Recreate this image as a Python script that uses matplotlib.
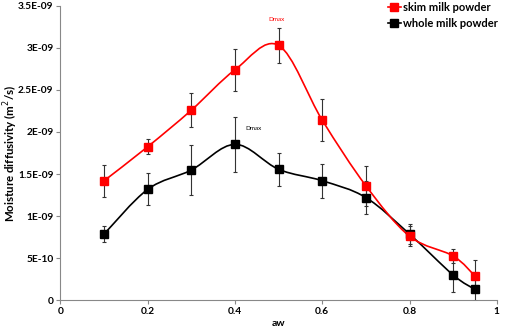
import numpy as np
import matplotlib
matplotlib.use("Agg")
from matplotlib import pyplot as plt
from matplotlib.path import Path
from matplotlib.patches import PathPatch
from matplotlib.lines import Line2D

plt.rcParams["font.family"] = ["Lato", "DejaVu Sans"]

aw = [0.1, 0.2, 0.3, 0.4, 0.5, 0.6, 0.7, 0.8, 0.9, 0.95]
skim = [1.42e-9, 1.825e-9, 2.26e-9, 2.74e-9, 3.03e-9, 2.14e-9, 1.36e-9, 0.76e-9, 0.525e-9, 0.286e-9]
skim_err = [0.19e-9, 0.09e-9, 0.2e-9, 0.25e-9, 0.21e-9, 0.25e-9, 0.24e-9, 0.12e-9, 0.08e-9, 0.19e-9]
whole = [0.786e-9, 1.318e-9, 1.548e-9, 1.853e-9, 1.556e-9, 1.42e-9, 1.22e-9, 0.785e-9, 0.298e-9, 0.127e-9]
whole_err = [0.09e-9, 0.19e-9, 0.3e-9, 0.33e-9, 0.2e-9, 0.2e-9, 0.2e-9, 0.12e-9, 0.2e-9, 0.14e-9]

x_ticks = [0, 0.2, 0.4, 0.6, 0.8, 1]
x_labels = ["0", "0.2", "0.4", "0.6", "0.8", "1"]
y_ticks = [0, 0.5e-9, 1e-9, 1.5e-9, 2e-9, 2.5e-9, 3e-9, 3.5e-9]
y_labels = ["0", "5E-10", "1E-09", "1.5E-09", "2E-09", "2.5E-09", "3E-09", "3.5E-09"]


def smooth_path(xs, ys):
    # Excel-style smoothed line: cubic Bezier with Catmull-Rom control points
    pts = np.column_stack([xs, ys])
    n = len(pts)
    verts = [pts[0]]
    codes = [Path.MOVETO]
    for i in range(n - 1):
        p0 = pts[max(i - 1, 0)]
        p1 = pts[i]
        p2 = pts[i + 1]
        p3 = pts[min(i + 2, n - 1)]
        c1 = p1 + (p2 - p0) / 6.0
        c2 = p2 - (p3 - p1) / 6.0
        verts += [c1, c2, p2]
        codes += [Path.CURVE4] * 3
    return Path(verts, codes)


fig = plt.figure(figsize=(5.08, 3.28), dpi=100)
ax = fig.add_axes([0.119, 0.085, 0.859, 0.897])

for ys, err, color in [(whole, whole_err, "#000000"), (skim, skim_err, "#ff0000")]:
    ax.add_patch(PathPatch(smooth_path(aw, ys), facecolor="none", edgecolor=color, lw=1.2, zorder=2))
    ax.errorbar(aw, ys, yerr=err, fmt="none", ecolor="#333333", elinewidth=0.8,
                capsize=1.5, capthick=0.8, zorder=3)
    ax.plot(aw, ys, ls="none", marker="s", ms=6, color=color, zorder=4)

ax.text(0.476, 3.32e-9, "Dmax", color="#ff0000", fontsize=4.5)
ax.text(0.423, 2.02e-9, "Dmax", color="#000000", fontsize=4.5)

ax.set_xlim(0, 1)
ax.set_ylim(0, 3.5e-9)
ax.set_xticks(x_ticks)
ax.set_xticklabels(x_labels, fontsize=7.3, fontweight="bold")
ax.set_yticks(y_ticks)
ax.set_yticklabels(y_labels, fontsize=7.3, fontweight="bold")
ax.tick_params(length=3, width=0.8, color="#888888", pad=2)
for side in ["top", "right"]:
    ax.spines[side].set_visible(False)
for side in ["left", "bottom"]:
    ax.spines[side].set_color("#888888")
    ax.spines[side].set_linewidth(0.8)

ax.set_xlabel("aw", fontsize=7.5, fontweight="bold", labelpad=2)
ax.set_ylabel("Moisture diffusivity (m$^2$/s)", fontsize=8.3, fontweight="bold")
ax.yaxis.set_label_coords(-0.092, 0.5)

handles = [
    Line2D([], [], color="#ff0000", marker="s", ms=6, lw=1.2),
    Line2D([], [], color="#000000", marker="s", ms=6, lw=1.2),
]
fig.legend(handles, ["skim milk powder", "whole milk powder"], loc="upper right",
           bbox_to_anchor=(1.0, 1.025), frameon=False, handlelength=1.2, handletextpad=0.2,
           labelspacing=0.5, prop={"size": 8, "weight": "bold"})

fig.savefig("out.png", dpi=100)
